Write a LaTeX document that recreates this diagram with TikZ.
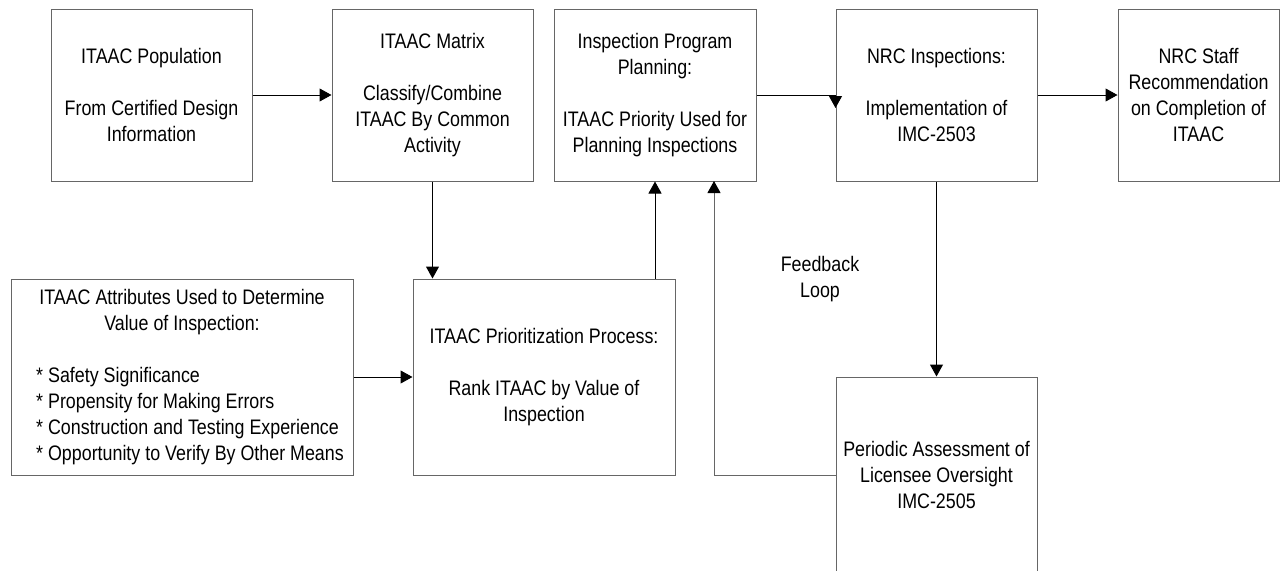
\documentclass[tikz,border=0pt]{standalone}
\usepackage{fontspec}
\setmainfont{Liberation Sans}[FakeStretch=0.85]
\usetikzlibrary{arrows.meta}

\tikzset{
  box/.style={draw=black!60, align=center, inner sep=0pt,
    minimum width=201pt, minimum height=172pt,
    font=\fontsize{21}{26}\selectfont},
  loopnote/.style={align=center, font=\fontsize{21}{26}\selectfont}
}

\begin{document}
\begin{tikzpicture}[x=1pt,y=-1pt,line width=1pt,>={Triangle[length=12pt,width=13pt]}]
\useasboundingbox (0,0) rectangle (1281,570);

% top row
\node[box] (pop) at (151.5,95) {ITAAC Population\\[26pt] From Certified Design\\ Information};
\node[box] (matrix) at (432.5,95) {ITAAC Matrix\\[26pt] Classify/Combine\\ ITAAC By Common\\ Activity};
\node[box,minimum width=202pt] (plan) at (655,95) {Inspection Program\\ Planning:\\[26pt] ITAAC Priority Used for\\ Planning Inspections};
\node[box] (insp) at (936.5,95) {NRC Inspections:\\[26pt] Implementation of\\ IMC-2503};
\node[box,minimum width=161pt] (staff) at (1198.5,95) {NRC Staff\\ Recommendation\\ on Completion of\\ ITAAC};

% lower row
\node[box,minimum width=342pt,minimum height=196pt] (attrs) at (182,377) {%
  \begin{tabular}{@{\hspace{16pt}}l@{}}
  \multicolumn{1}{@{}c@{}}{ITAAC Attributes Used to Determine}\\
  \multicolumn{1}{@{}c@{}}{Value of Inspection:}\\
  \\
  {*} Safety Significance\\
  {*} Propensity for Making Errors\\
  {*} Construction and Testing Experience\\
  {*} Opportunity to Verify By Other Means
  \end{tabular}};
\node[box,minimum width=262pt,minimum height=196pt] (prio) at (544,377) {ITAAC Prioritization Process:\\[26pt] Rank ITAAC by Value of\\ Inspection};
\node[box,minimum height=196pt] (assess) at (936.5,475) {Periodic Assessment of\\ Licensee Oversight\\ IMC-2505};
\node[loopnote] (fbnote) at (820,279.5) {Feedback\\ Loop};
\coordinate (fbtop) at (714,181);

\draw[->] (pop) -- (matrix);
\draw[->] (plan.east) -- (insp.west) -- ++(0,13);
\draw[->] (insp) -- (staff);
\draw[->] (matrix.south) -- (matrix.south |- prio.north);
\draw[->] (attrs) -- (prio);
\draw[->] (plan.south |- prio.north) -- (plan.south);
\draw[->] (insp) -- (assess);
\draw[-{Triangle[length=12pt,width=13pt,color=black]},draw=black!60] (assess.west) -| (fbtop);
\end{tikzpicture}
\end{document}
